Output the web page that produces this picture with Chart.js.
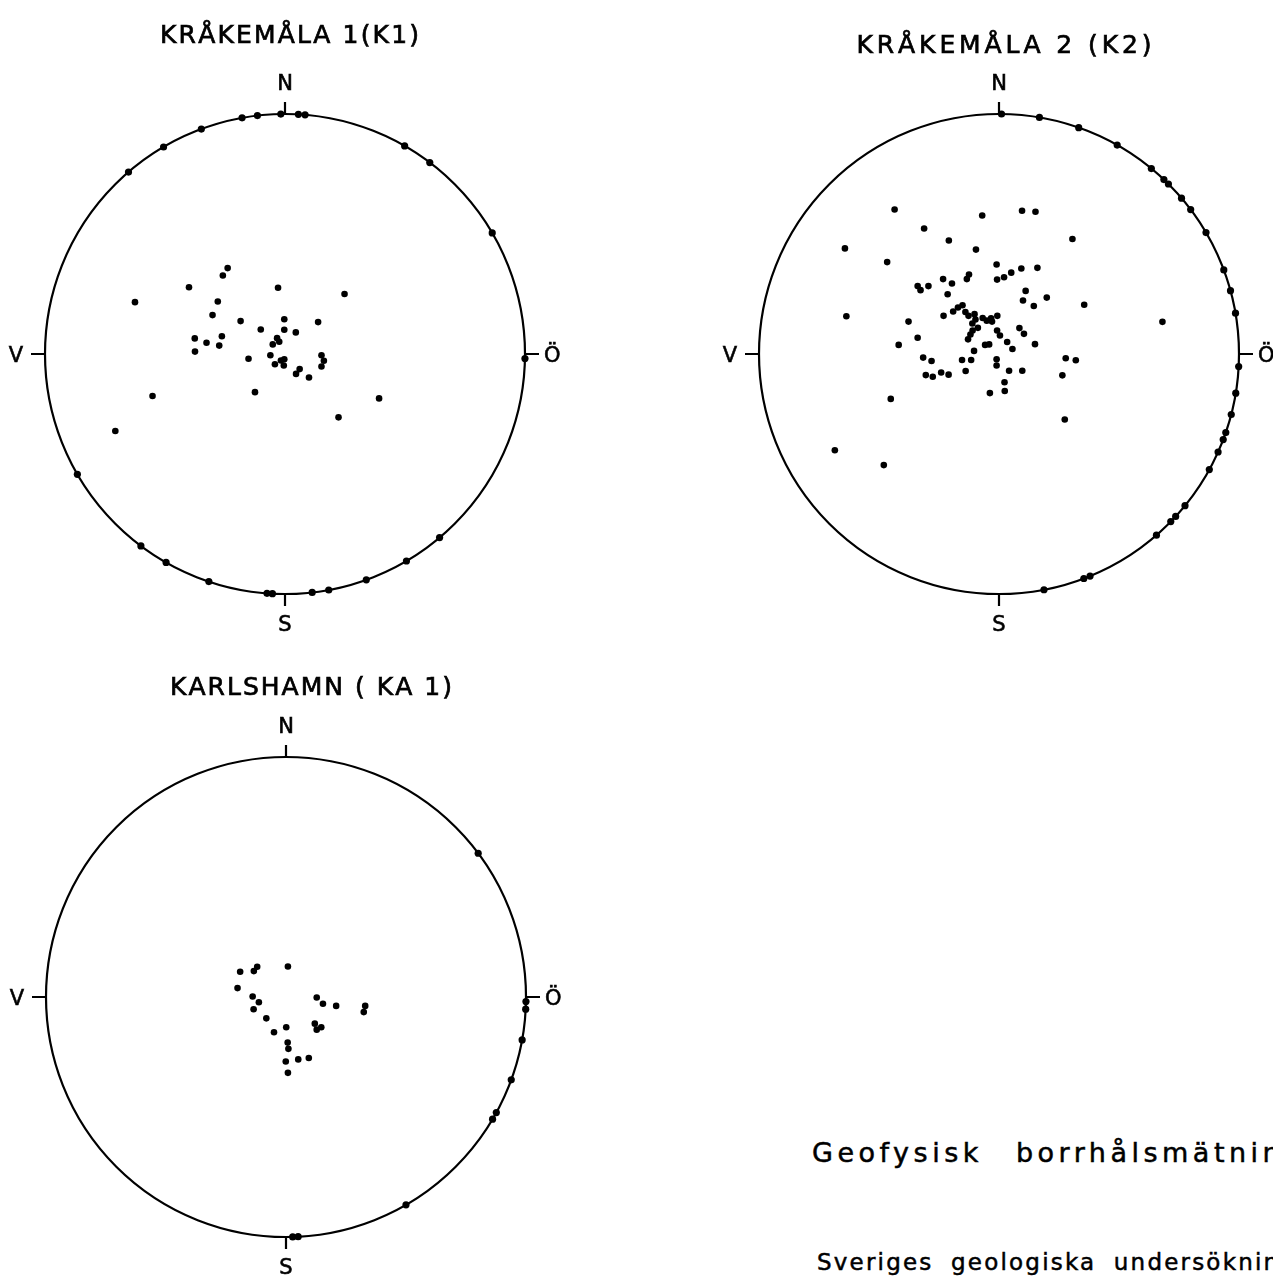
<!DOCTYPE html>
<html>
<head>
<meta charset="utf-8">
<script src="https://cdn.jsdelivr.net/npm/chart.js@4.4.0/dist/chart.umd.min.js"></script>
<style>
html, body { margin: 0; padding: 0; background: #fff; overflow: hidden; width: 1273px; height: 1277px; }
canvas { position: absolute; }
.foot { position: absolute; font-family: "DejaVu Sans"; color: #000; white-space: pre; line-height: 1; -webkit-text-stroke: 0.5px #000; }
</style>
</head>
<body>
<canvas id="k1" width="620" height="640" style="left:0px;top:0px"></canvas>
<canvas id="k2" width="573" height="640" style="left:700px;top:0px"></canvas>
<canvas id="ka1" width="620" height="632" style="left:0px;top:645px"></canvas>
<div class="foot" style="left:812px;top:1139px;font-size:27px;letter-spacing:4.5px;word-spacing:20px">Geofysisk borrhålsmätning</div>
<div class="foot" style="left:817px;top:1251px;font-size:23px;letter-spacing:2.2px;word-spacing:8px">Sveriges geologiska undersökning</div>
<script>
// poles inside the net, x = east, y = north, in units of the net radius
const k1Inner = [[-0.239,0.358],[-0.259,0.327],[-0.400,0.278],[-0.029,0.276],[0.248,0.250],[-0.625,0.216],[-0.280,0.219],[-0.302,0.162],
  [-0.185,0.137],[-0.003,0.145],[0.138,0.133],[-0.101,0.102],[-0.003,0.101],[0.045,0.090],[-0.376,0.065],[-0.263,0.074],[-0.327,0.047],
  [-0.274,0.035],[-0.375,0.010],[-0.033,0.066],[-0.024,0.051],[-0.051,0.040],[-0.152,-0.020],[-0.061,-0.005],[-0.017,-0.027],[-0.003,-0.022],
  [-0.042,-0.043],[-0.005,-0.048],[0.152,-0.005],[0.162,-0.028],[0.152,-0.052],[0.061,-0.063],[0.046,-0.083],[0.100,-0.098],[-0.125,-0.159],
  [-0.552,-0.175],[0.392,-0.185],[0.223,-0.264],[-0.707,-0.321]];
const k2Inner = [[-0.435,0.602],[-0.070,0.577],[0.096,0.597],[0.152,0.593],[-0.312,0.523],[-0.209,0.473],[-0.642,0.440],[-0.096,0.435],
  [0.306,0.479],[-0.466,0.383],[-0.010,0.373],[0.093,0.356],[0.160,0.359],[0.051,0.339],[0.021,0.320],[-0.008,0.310],[-0.125,0.331],
  [-0.134,0.312],[-0.233,0.312],[-0.196,0.294],[-0.339,0.283],[-0.327,0.266],[-0.294,0.283],[-0.214,0.249],[0.111,0.263],[0.100,0.223],
  [0.145,0.200],[0.199,0.235],[0.355,0.205],[-0.636,0.157],[-0.231,0.159],[-0.377,0.135],[-0.339,0.068],[-0.418,0.038],[0.681,0.134],
  [-0.191,0.177],[-0.171,0.194],[-0.152,0.203],[-0.140,0.175],[-0.127,0.159],[-0.102,0.166],[-0.098,0.144],[-0.111,0.127],[-0.088,0.109],
  [-0.110,0.098],[-0.119,0.081],[-0.129,0.061],[-0.068,0.150],[-0.051,0.139],[-0.029,0.135],[-0.007,0.159],[-0.033,0.149],[-0.008,0.098],
  [0.004,0.077],[0.085,0.108],[0.104,0.084],[0.034,0.050],[0.056,0.021],[0.150,0.041],[-0.104,0.013],[-0.058,0.038],[-0.041,0.040],
  [-0.316,-0.015],[-0.281,-0.029],[-0.154,-0.025],[-0.116,-0.025],[-0.010,-0.022],[-0.010,-0.048],[0.042,-0.070],[0.097,-0.070],
  [-0.305,-0.088],[-0.276,-0.095],[-0.241,-0.077],[-0.210,-0.086],[-0.139,-0.071],[0.023,-0.118],[0.024,-0.154],[-0.038,-0.163],
  [0.278,-0.018],[0.320,-0.026],[0.264,-0.089],[-0.451,-0.187],[0.274,-0.273],[-0.684,-0.401],[-0.480,-0.463]];
const ka1Inner = [[-0.191,0.105],[-0.134,0.108],[-0.120,0.126],[0.008,0.127],[-0.202,0.037],[-0.139,0.002],[-0.113,-0.022],[-0.135,-0.051],
  [-0.082,-0.089],[-0.050,-0.147],[0.001,-0.126],[0.128,-0.002],[0.154,-0.028],[0.209,-0.037],[0.330,-0.037],[0.324,-0.063],[0.120,-0.111],
  [0.147,-0.126],[0.128,-0.136],[0.007,-0.190],[0.010,-0.216],[-0.001,-0.269],[0.051,-0.260],[0.095,-0.254],[0.008,-0.316]];

// poles on the primitive circle, azimuth in degrees clockwise from N
const k1Rim = [319.3,329.6,339.6,349.7,353.4,359.0,3.2,4.8,29.9,37.1,59.7,91.1,139.9,149.6,160.2,169.5,173.5,183.0,184.3,198.5,209.7,216.9,239.9];
const k2Rim = [0.6,9.7,19.4,29.5,39.4,43.4,44.9,49.5,53.0,59.6,69.5,74.7,80.2,93.0,99.4,104.6,109.1,110.9,114.1,118.8,129.2,132.6,134.3,139.0,157.7,159.3,169.2];
const ka1Rim = [53.2,91.1,92.9,100.3,110.2,118.8,120.6,150.0,177.1,178.4];

const titles = ["KRÅKEMÅLA 1(K1)", "KRÅKEMÅLA 2 (K2)", "KARLSHAMN ( KA 1)"];
const dirLabels = ["N", "S", "V", "Ö"];

function rimPoints(az) {
    return az.map(a => ({x: Math.sin(a * Math.PI / 180), y: Math.cos(a * Math.PI / 180)}));
}

// text with a bit of stroke so it looks like plotter pen lines
function penText(ctx, txt, x, y) {
    ctx.fillText(txt, x, y);
    ctx.strokeText(txt, x, y);
}

function drawSpaced(ctx, text, cx, base, width) {
    let total = 0;
    for (let ch of text) total += ctx.measureText(ch).width;
    let gap = (width - total) / (text.length - 1);
    let xx = cx - width / 2;
    ctx.textAlign = 'left';
    for (let ch of text) {
        penText(ctx, ch, xx, base);
        xx += ctx.measureText(ch).width + gap;
    }
}

const netFrame = {
    id: 'netFrame',
    beforeDatasetsDraw(chart, args, opts) {
        const ctx = chart.ctx;
        const xs = chart.scales.x, ys = chart.scales.y;
        const cx = xs.getPixelForValue(0), cy = ys.getPixelForValue(0);
        const r = xs.getPixelForValue(1) - cx;
        ctx.save();
        ctx.strokeStyle = '#000';
        ctx.lineWidth = 2.2;
        ctx.beginPath();
        ctx.arc(cx, cy, r, 0, 2 * Math.PI);
        ctx.stroke();
        ctx.beginPath();
        ctx.moveTo(cx, cy - r); ctx.lineTo(cx, cy - r - 12);
        ctx.moveTo(cx, cy + r); ctx.lineTo(cx, cy + r + 12);
        ctx.moveTo(cx - r, cy); ctx.lineTo(cx - r - 14, cy);
        ctx.moveTo(cx + r, cy); ctx.lineTo(cx + r + 14, cy);
        ctx.stroke();

        ctx.fillStyle = '#000';
        ctx.lineWidth = 0.6;
        ctx.font = '21px "DejaVu Sans"';
        ctx.textBaseline = 'alphabetic';
        ctx.textAlign = 'center';
        penText(ctx, dirLabels[0], cx, cy - r - 24);
        penText(ctx, dirLabels[1], cx, cy + r + 37);
        ctx.textAlign = 'right';
        penText(ctx, dirLabels[2], cx - r - 22, cy + 8);
        ctx.textAlign = 'left';
        penText(ctx, dirLabels[3], cx + r + 19, cy + 8);

        ctx.font = '25px "DejaVu Sans"';
        ctx.lineWidth = 0.7;
        drawSpaced(ctx, opts.text, cx + opts.dx, cy - r + opts.dy, opts.width);
        ctx.restore();
    }
};

function makeNet(id, inner, rim, title, pad) {
    return new Chart(document.getElementById(id), {
        type: 'scatter',
        data: {
            datasets: [
                {
                    label: 'inner',
                    data: inner.map(p => ({x: p[0], y: p[1]})),
                    pointRadius: 3.3,
                    backgroundColor: '#000',
                    borderWidth: 0,
                    clip: false
                },
                {
                    label: 'rim',
                    data: rimPoints(rim),
                    pointRadius: 3.6,
                    backgroundColor: '#000',
                    borderWidth: 0,
                    clip: false
                }
            ]
        },
        options: {
            responsive: false,
            animation: false,
            events: [],
            layout: {padding: pad},
            scales: {
                x: {type: 'linear', min: -1, max: 1, display: false},
                y: {type: 'linear', min: -1, max: 1, display: false}
            },
            plugins: {
                legend: {display: false},
                tooltip: {enabled: false},
                netFrame: title
            }
        },
        plugins: [netFrame]
    });
}

makeNet('k1', k1Inner, k1Rim, {text: titles[0], dx: 4.5, dy: -71, width: 259},
    {left: 45, top: 114, right: 95, bottom: 46});
makeNet('k2', k2Inner, k2Rim, {text: titles[1], dx: 5, dy: -61, width: 295},
    {left: 59, top: 114, right: 34, bottom: 46});
makeNet('ka1', ka1Inner, ka1Rim, {text: titles[2], dx: 25, dy: -62, width: 282},
    {left: 46, top: 112, right: 94, bottom: 40});
</script>
</body>
</html>
